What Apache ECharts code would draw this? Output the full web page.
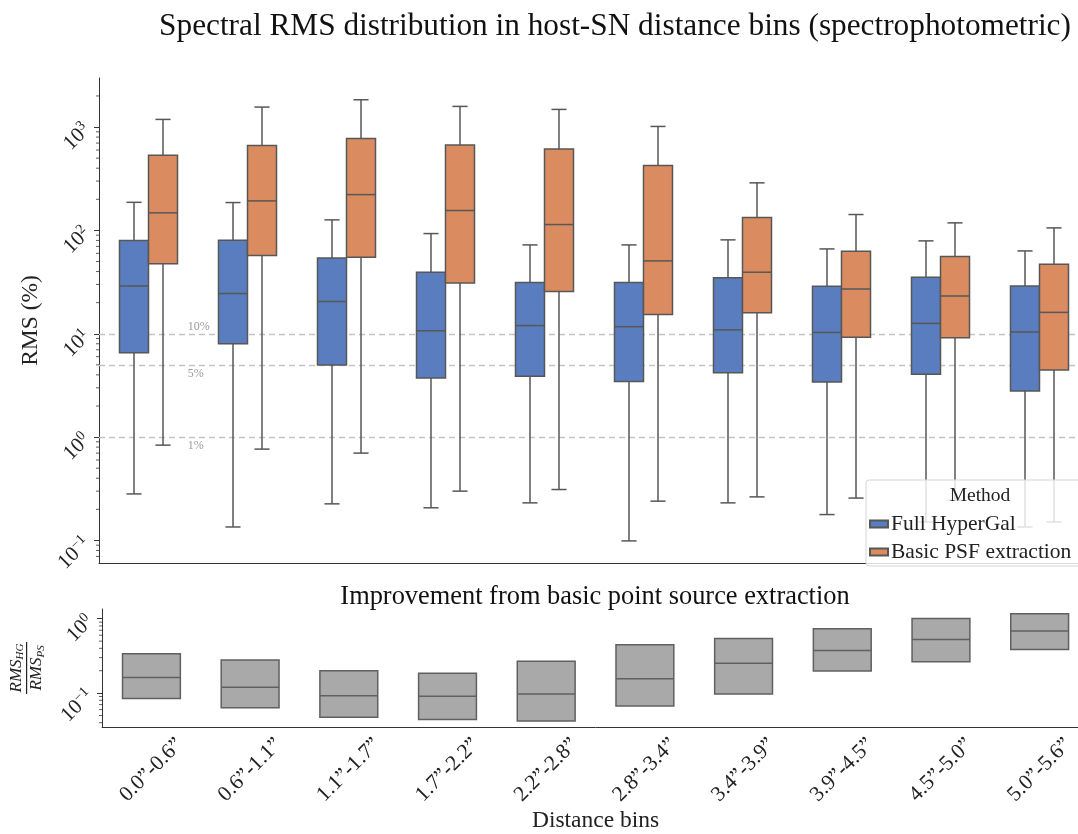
<!DOCTYPE html>
<html><head><meta charset="utf-8">
<script src="https://cdn.jsdelivr.net/npm/echarts@6/dist/echarts.min.js"></script>
<style>html,body{margin:0;padding:0;overflow:hidden;background:#fff;width:1078px;height:834px}#c{width:1120px;height:834px}</style>
</head><body><div id="c"></div><script>
// ---------- data ----------
const categories = ['0.0”-0.6”','0.6”-1.1”','1.1”-1.7”','1.7”-2.2”','2.2”-2.8”','2.8”-3.4”','3.4”-3.9”','3.9”-4.5”','4.5”-5.0”','5.0”-5.6”'];
// [lower whisker, Q1, median, Q3, upper whisker]  (RMS in %)
const hyperGal = [
  [0.282, 6.56, 29.0, 79.8, 187],
  [0.135, 8.02, 24.5, 80.4, 186],
  [0.226, 4.98, 20.5, 54.2, 126.5],
  [0.207, 3.73, 10.7, 39.4, 93.2],
  [0.231, 3.87, 12.0, 31.3, 72.4],
  [0.099, 3.46, 11.7, 31.3, 72.4],
  [0.231, 4.20, 10.9, 34.9, 81.0],
  [0.178, 3.41, 10.3, 28.8, 66.2],
  [0.151, 4.05, 12.6, 35.2, 79.2],
  [0.135, 2.79, 10.4, 29.0, 63.3]
];
const basicPSF = [
  [0.836, 47.7, 147.9, 535, 1186],
  [0.765, 57.1, 193, 664, 1561],
  [0.700, 55.0, 222, 776, 1838],
  [0.300, 31.0, 155.8, 669, 1585],
  [0.311, 25.6, 114, 612, 1482],
  [0.240, 15.4, 50.7, 425, 1014],
  [0.264, 16.0, 39.4, 133.2, 288.6],
  [0.257, 9.23, 27.1, 62.9, 142.5],
  [0.245, 9.17, 23.2, 55.8, 118.3],
  [0.151, 4.46, 16.1, 47.1, 105.8]
];
// RMS_HG / RMS_PS : [Q1, median, Q3]
const ratio = [
  [0.0843, 0.162, 0.3375],
  [0.0636, 0.1199, 0.279],
  [0.0475, 0.0923, 0.200],
  [0.0443, 0.0904, 0.1846],
  [0.042, 0.097, 0.268],
  [0.0669, 0.1556, 0.447],
  [0.097, 0.2522, 0.5417],
  [0.198, 0.373, 0.732],
  [0.265, 0.5255, 1.01],
  [0.385, 0.682, 1.163]
];
const refLevels = [10, 5, 1];
const refLabels = ['10%', '5%', '1%'];
const seriesNames = ['Full HyperGal', 'Basic PSF extraction'];
const upperRange = [0.0605, 2984];
const lowerRange = [0.0351, 1.352];

// ---------- style ----------
const SERIF = '"Liberation Serif","DejaVu Serif",serif';
const BLUE = '#597dbf', ORANGE = '#da8b5f', GREY = '#a9a9a9', EDGE = '#575757';
const BOX_W = 0.293;   // fraction of band per hue box
const RATIO_W = 0.586;

function powLabel(v) {
  const e = Math.log10(v), r = Math.round(e);
  if (Math.abs(e - r) > 1e-6) return '';
  return '{b|10}{s|' + (r < 0 ? '−' + (-r) : r) + '}';
}
const tickRich = {
  b: {fontFamily: SERIF, fontSize: 21, color: '#222'},
  s: {fontFamily: SERIF, fontSize: 14, color: '#222', padding: [0, 0, 10, 0]}
};

function boxRenderer(offset, color) {
  return function (params, api) {
    const x = api.value(0);
    const band = api.size([1, 0], [x, 1])[0];
    const cx = api.coord([x, api.value(3)])[0] + offset * band;
    const w = BOX_W * band;
    const y = i => api.coord([x, api.value(i)])[1];
    const yLo = y(1), yQ1 = y(2), yMed = y(3), yQ3 = y(4), yHi = y(5);
    const cap = w * 0.52;
    const ls = {stroke: EDGE, lineWidth: 1.5};
    return {type: 'group', children: [
      {type: 'line', shape: {x1: cx, y1: yHi, x2: cx, y2: yQ3}, style: ls},
      {type: 'line', shape: {x1: cx, y1: yQ1, x2: cx, y2: yLo}, style: ls},
      {type: 'line', shape: {x1: cx - cap / 2, y1: yHi, x2: cx + cap / 2, y2: yHi}, style: ls},
      {type: 'line', shape: {x1: cx - cap / 2, y1: yLo, x2: cx + cap / 2, y2: yLo}, style: ls},
      {type: 'rect', shape: {x: cx - w / 2, y: yQ3, width: w, height: yQ1 - yQ3}, style: {fill: color, stroke: EDGE, lineWidth: 1.5}},
      {type: 'line', shape: {x1: cx - w / 2, y1: yMed, x2: cx + w / 2, y2: yMed}, style: ls}
    ]};
  };
}
function ratioRenderer(params, api) {
  const x = api.value(0);
  const band = api.size([1, 0], [x, 1])[0];
  const cx = api.coord([x, api.value(2)])[0];
  const w = RATIO_W * band;
  const y = i => api.coord([x, api.value(i)])[1];
  const yQ1 = y(1), yMed = y(2), yQ3 = y(3);
  return {type: 'group', children: [
    {type: 'rect', shape: {x: cx - w / 2, y: yQ3, width: w, height: yQ1 - yQ3}, style: {fill: GREY, stroke: '#606060', lineWidth: 1.5}},
    {type: 'line', shape: {x1: cx - w / 2, y1: yMed, x2: cx + w / 2, y2: yMed}, style: {stroke: '#606060', lineWidth: 1.5}}
  ]};
}
// log minor ticks (2..9 x 10^k) inside an axis range
function minorValues(range) {
  const out = [];
  for (let k = -3; k <= 4; k++) for (let m = 2; m <= 9; m++) {
    const v = m * Math.pow(10, k);
    if (v > range[0] && v < range[1]) out.push([0, v]);
  }
  return out;
}
function minorRenderer(params, api) {
  const band = api.size([1, 0], [0, 1])[0];
  const c = api.coord([0, api.value(1)]);
  const x = c[0] - band / 2;
  return {type: 'line', shape: {x1: x, y1: c[1], x2: x - 3, y2: c[1]}, style: {stroke: '#333', lineWidth: 0.8}};
}

const option = {
  animation: false,
  backgroundColor: '#fff',
  title: [
    {text: 'Spectral RMS distribution in host-SN distance bins (spectrophotometric)', left: 610, top: 6, textAlign: 'center',
     textStyle: {fontFamily: SERIF, fontWeight: 'normal', fontSize: 31.3, color: '#111'}},
    {text: 'Improvement from basic point source extraction', left: 590, top: 579, textAlign: 'center',
     textStyle: {fontFamily: SERIF, fontWeight: 'normal', fontSize: 26.4, color: '#111'}},
    {text: 'Method', left: 975, top: 481, textAlign: 'center', z: 20,
     textStyle: {fontFamily: SERIF, fontWeight: 'normal', fontSize: 19.5, color: '#222'}}
  ],
  legend: {
    data: seriesNames, orient: 'vertical', left: 866, top: 480,
    padding: [33, 14, 3, 3], itemGap: 6, itemWidth: 18, itemHeight: 7,
    backgroundColor: 'rgba(255,255,255,0.82)', borderColor: '#d5d5d5', borderWidth: 1, borderRadius: 3,
    icon: 'rect',
    textStyle: {fontFamily: SERIF, fontSize: 21.5, color: '#222', padding: [0, 0, 0, -2]}
  },
  grid: [
    {left: 99, right: 31, top: 78, height: 485},
    {left: 99, right: 31, top: 609, height: 121}
  ],
  xAxis: [
    {type: 'category', gridIndex: 0, data: categories, axisLabel: {show: false}, axisTick: {show: false},
     axisLine: {lineStyle: {color: '#333', width: 1}}},
    {type: 'category', gridIndex: 1, data: categories,
     axisTick: {alignWithLabel: true, length: 4, lineStyle: {color: '#333'}},
     axisLine: {lineStyle: {color: '#333', width: 1}},
     axisLabel: {rotate: 45, fontFamily: SERIF, fontSize: 21.5, color: '#222', margin: 43, align: 'center', verticalAlign: 'middle', interval: 0},
     name: 'Distance bins', nameLocation: 'middle', nameGap: 80,
     nameTextStyle: {fontFamily: SERIF, fontSize: 23.5, color: '#222'}}
  ],
  yAxis: [
    {type: 'log', logBase: 10, gridIndex: 0, min: upperRange[0], max: upperRange[1],
     axisLine: {show: true, lineStyle: {color: '#333', width: 1}},
     axisTick: {show: true, length: 5, lineStyle: {color: '#333'}},
     splitLine: {show: false},
     axisLabel: {formatter: powLabel, rich: tickRich, rotate: 45, margin: 12, showMinLabel: false, showMaxLabel: false},
     name: 'RMS (%)', nameLocation: 'middle', nameGap: 54, nameRotate: 90,
     nameTextStyle: {fontFamily: SERIF, fontSize: 23.5, color: '#222'}},
    {type: 'log', logBase: 10, gridIndex: 1, min: lowerRange[0], max: lowerRange[1],
     axisLine: {show: true, lineStyle: {color: '#333', width: 1}},
     axisTick: {show: true, length: 5, lineStyle: {color: '#333'}},
     splitLine: {show: false},
     axisLabel: {formatter: powLabel, rich: tickRich, rotate: 45, margin: 12, showMinLabel: false, showMaxLabel: false},
     name: '{n|RMS}{s|HG}\n{bar|}\n{n|RMS}{s|PS}', nameLocation: 'middle', nameGap: 54, nameRotate: 90,
     nameTextStyle: {rich: {
       n: {fontFamily: SERIF, fontStyle: 'italic', fontSize: 17, color: '#222', align: 'center'},
       s: {fontFamily: SERIF, fontStyle: 'italic', fontSize: 11, color: '#222', padding: [8, 0, 0, 0], align: 'center'},
       bar: {width: 52, height: 1.2, backgroundColor: '#222', align: 'center'}
     }}}
  ],
  series: [
    {name: seriesNames[0], type: 'custom', xAxisIndex: 0, yAxisIndex: 0, z: 3,
     itemStyle: {color: BLUE, borderColor: EDGE, borderWidth: 1},
     encode: {x: 0, y: [1, 2, 3, 4, 5]},
     data: hyperGal.map((d, i) => [i].concat(d)),
     renderItem: boxRenderer(-BOX_W / 2, BLUE)},
    {name: seriesNames[1], type: 'custom', xAxisIndex: 0, yAxisIndex: 0, z: 3,
     itemStyle: {color: ORANGE, borderColor: EDGE, borderWidth: 1},
     encode: {x: 0, y: [1, 2, 3, 4, 5]},
     data: basicPSF.map((d, i) => [i].concat(d)),
     renderItem: boxRenderer(BOX_W / 2, ORANGE)},
    {type: 'custom', xAxisIndex: 0, yAxisIndex: 0, silent: true, z: 1,
     data: refLevels.map((v, i) => [0, v, i]),
     renderItem: function (params, api) {
       const band = api.size([1, 0], [0, 1])[0];
       const c = api.coord([0, api.value(1)]);
       const i = api.value(2);
       const above = i === 0;
       return {type: 'text', x: c[0] + 0.397 * band, y: c[1] + (above ? -1 : 3),
         style: {text: refLabels[i], fill: '#9a9a9a', font: '12px ' + SERIF, align: 'left', verticalAlign: above ? 'bottom' : 'top'}};
     },
     markLine: {silent: true, symbol: 'none', label: {show: false}, z: 1,
       lineStyle: {color: '#c4c4c4', type: [6, 4], width: 1.3},
       data: refLevels.map(v => ({yAxis: v}))}},
    {type: 'custom', xAxisIndex: 0, yAxisIndex: 0, silent: true, clip: false,
     data: minorValues(upperRange), renderItem: minorRenderer},
    {name: 'ratio', type: 'custom', xAxisIndex: 1, yAxisIndex: 1,
     encode: {x: 0, y: [1, 2, 3]},
     data: ratio.map((d, i) => [i].concat(d)),
     renderItem: ratioRenderer},
    {type: 'custom', xAxisIndex: 1, yAxisIndex: 1, silent: true, clip: false,
     data: minorValues(lowerRange), renderItem: minorRenderer}
  ]
};
const chart = echarts.init(document.getElementById('c'), null, {renderer: 'canvas'});
chart.setOption(option);
</script></body></html>
